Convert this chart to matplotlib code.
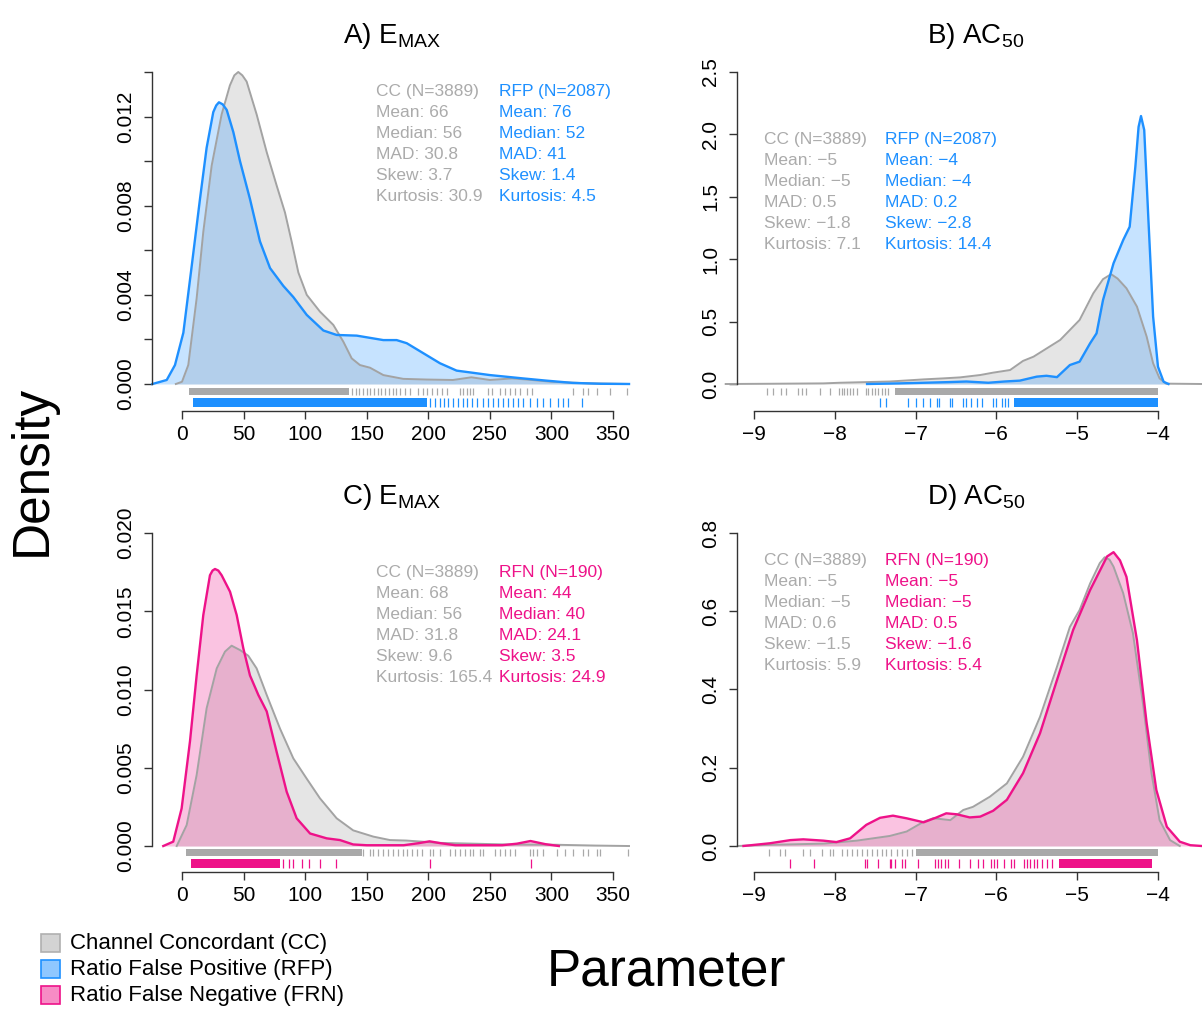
import numpy as np
import matplotlib
matplotlib.use('Agg')
from matplotlib import pyplot as plt

plt.rcParams['font.family'] = ['Liberation Sans', 'DejaVu Sans']
plt.rcParams['mathtext.fontset'] = 'custom'
plt.rcParams['mathtext.rm'] = 'Liberation Sans'
plt.rcParams['mathtext.it'] = 'Liberation Sans:italic'

# ---- density curves ----
# A) Emax, CC vs RFP
a_cc_x = [-5, 0, 5.1, 11.9, 17.3, 24.1, 32.2, 38.9, 42.5, 45.7, 49, 52.5, 60.6, 68.8, 76.9, 83.6, 89, 94.5,
          101.3, 112, 122.9, 131, 137.8, 144.5, 152.7, 163.5, 179.7, 198.7, 220, 235, 250, 268, 280, 300,
          330, 363]
a_cc_y = [0, 0.0001, 0.00085, 0.00385, 0.00683, 0.0098, 0.0121, 0.0134, 0.01385, 0.0140, 0.01385, 0.01357,
          0.0121, 0.0104, 0.0089, 0.0077, 0.0064, 0.0050, 0.0040, 0.00325, 0.00265, 0.0019, 0.00115,
          0.00085, 0.00073, 0.0004, 0.00023, 0.0002, 0.00018, 0.0003, 0.00018, 0.00025, 0.0002, 0.0001,
          0.00003, 0]
a_rfp_x = [-24, -12.4, -5.7, 1.1, 7.9, 14.6, 20, 25.4, 27.8, 30, 33, 36.3, 41.7, 47.1, 55.2, 63.3, 71.5,
           82.3, 90.4, 101.3, 114.8, 125.6, 141.9, 163.5, 174.3, 182.5, 196, 209.5, 223, 236.6, 250, 277,
           296, 317, 340, 363]
a_rfp_y = [0, 0.00018, 0.00085, 0.0023, 0.0053, 0.0083, 0.0106, 0.0122, 0.0125, 0.01264, 0.01255, 0.0123,
           0.0113, 0.0100, 0.0083, 0.0064, 0.0052, 0.0044, 0.0039, 0.0031, 0.0024, 0.0022, 0.00217,
           0.00197, 0.00197, 0.00183, 0.00138, 0.00093, 0.0006, 0.0005, 0.0004, 0.00025, 0.00015,
           0.00005, 0.00001, 0]

# B) AC50, CC vs RFP
b_cc_x = [-9.35, -8.8, -8.14, -7.94, -7.32, -6.9, -6.66, -6.45, -6.2, -6.04, -5.83, -5.67, -5.54, -5.21,
          -4.97, -4.8, -4.68, -4.58, -4.5, -4.39, -4.26, -4.14, -4.06, -3.98, -3.9, -3.45]
b_cc_y = [0, 0.002, 0.005, 0.01, 0.02, 0.037, 0.045, 0.053, 0.072, 0.091, 0.112, 0.185, 0.219, 0.353,
          0.513, 0.727, 0.84, 0.88, 0.845, 0.767, 0.62, 0.38, 0.166, 0.045, 0.003, 0]
b_rfp_x = [-7.6, -7.2, -6.9, -6.6, -6.37, -6.1, -5.9, -5.71, -5.5, -5.38, -5.25, -5.09, -4.97, -4.84,
           -4.76, -4.68, -4.55, -4.43, -4.35, -4.28, -4.24, -4.21, -4.17, -4.12, -4.06, -4.0, -3.93, -3.87]
b_rfp_y = [0, 0.005, 0.01, 0.015, 0.02, 0.01, 0.02, 0.027, 0.059, 0.066, 0.055, 0.152, 0.179, 0.326,
           0.406, 0.673, 0.967, 1.154, 1.26, 1.74, 2.06, 2.147, 2.035, 1.34, 0.54, 0.139, 0.018, 0]

# C) Emax, CC vs RFN
c_cc_x = [-4.3, 3.8, 11.9, 20, 28.2, 34.9, 40.3, 47.1, 53.8, 60.6, 68.8, 79.6, 90.4, 101.3, 112, 125.6,
          139, 155.4, 168.9, 182, 209.5, 236.6, 263.7, 304, 335, 363]
c_cc_y = [0, 0.00134, 0.00454, 0.0088, 0.01135, 0.01242, 0.0128, 0.01252, 0.01216, 0.01135, 0.00965,
          0.0075, 0.0056, 0.0043, 0.00305, 0.00177, 0.001, 0.0006, 0.00038, 0.00035, 0.0002, 0.00015,
          0.0001, 0.00008, 0.00003, 0]
c_rfn_x = [-15.2, -7.1, -0.3, 6.5, 11.9, 17.3, 22.7, 24.8, 26.8, 29.5, 32.2, 39, 44.4, 49.8, 55.2, 62, 68.8,
           76.9, 85, 93.1, 104, 117.5, 128.3, 139, 150, 180, 192, 201, 210, 222, 260, 272, 283, 295, 306]
c_rfn_y = [0, 0.00028, 0.0024, 0.0067, 0.0109, 0.01476, 0.0173, 0.0176, 0.0177, 0.0176, 0.0173, 0.01625,
           0.01476, 0.01263, 0.0109, 0.00965, 0.0086, 0.006, 0.00347, 0.00177, 0.0008, 0.00049, 0.00038,
           0.0001, 0.00005, 0.00005, 0.00018, 0.0003, 0.00018, 0.00005, 0.00005, 0.00015, 0.00032,
           0.00012, 0]

# D) AC50, CC vs RFN
d_cc_x = [-9.2, -8.8, -8.14, -7.73, -7.32, -7.11, -6.9, -6.78, -6.57, -6.41, -6.29, -6.08, -5.87, -5.67,
          -5.46, -5.25, -5.09, -4.97, -4.84, -4.72, -4.66, -4.6, -4.55, -4.43, -4.31, -4.18, -4.08, -3.98,
          -3.85, -3.73]
d_cc_y = [0, 0.003, 0.006, 0.0136, 0.0256, 0.037, 0.062, 0.071, 0.066, 0.092, 0.1, 0.126, 0.16, 0.228,
          0.33, 0.458, 0.56, 0.603, 0.671, 0.723, 0.738, 0.732, 0.714, 0.646, 0.544, 0.356, 0.186, 0.066,
          0.015, 0]
d_rfn_x = [-9.13, -8.8, -8.55, -8.39, -8.14, -7.98, -7.81, -7.61, -7.44, -7.28, -7.11, -6.9, -6.74,
           -6.62, -6.49, -6.33, -6.2, -6.04, -5.87, -5.67, -5.46, -5.25, -5.05, -4.84, -4.63, -4.55,
           -4.47, -4.39, -4.26, -4.14, -4.02, -3.89, -3.73, -3.6, -3.46]
d_rfn_y = [0, 0.007, 0.015, 0.017, 0.0136, 0.01, 0.0196, 0.054, 0.072, 0.0775, 0.0707, 0.0605, 0.073,
           0.0835, 0.081, 0.073, 0.075, 0.09, 0.118, 0.186, 0.288, 0.424, 0.552, 0.654, 0.74, 0.751,
           0.73, 0.688, 0.526, 0.314, 0.143, 0.049, 0.011, 0.002, 0]

# ---- rugs: solid stretches (start, end) and single ticks ----
a_cc_rug_dense = [(6, 136)]
a_cc_rug = [138, 141, 144, 147, 150, 153, 156, 159, 162, 165, 168, 171, 174, 177, 181, 185.2, 191.9, 196,
            199.2, 202.7, 206.8, 210.8, 214.9, 225.7, 228.4, 231.1, 233.8, 236.5, 248.7, 251.4, 258.2,
            262.2, 266.3, 270.4, 274.4, 279.8, 283.9, 317.8, 325.9, 330, 336.8, 347.6, 361]
a_rfp_rug_dense = [(8.7, 198.7)]
a_rfp_rug = [201.4, 205.5, 209.5, 212.8, 216.3, 220.4, 224.4, 228, 231.1, 235.2, 239.2, 244.6, 248.7,
             252.8, 256.8, 260.9, 265, 269, 273.1, 277.2, 282.6, 288, 293.4, 298.8, 305.6, 309.7, 313.8, 324.6]

b_cc_rug_dense = [(-7.255, -4.0)]
b_cc_rug = [-8.835, -8.77, -8.66, -8.6, -8.46, -8.41, -8.36, -8.18, -8.06, -7.95, -7.915, -7.88, -7.85,
            -7.81, -7.77, -7.73, -7.61, -7.585, -7.54, -7.5, -7.46, -7.42, -7.38, -7.34]
b_rfp_rug_dense = [(-5.78, -4.0)]
b_rfp_rug = [-7.44, -7.36, -7.09, -6.99, -6.905, -6.82, -6.74, -6.71, -6.57, -6.55, -6.41, -6.37, -6.31,
             -6.24, -6.18, -6.04, -6.0, -5.93, -5.89, -5.85]

c_cc_rug_dense = [(3, 146)]
c_cc_rug = [147.3, 152.7, 155.4, 159.5, 163.5, 167.6, 171.6, 175.7, 179.8, 182.5, 186.5, 190.6, 194.7,
            201.4, 204.1, 209.5, 217.6, 221.7, 225.7, 229.8, 233.8, 236.5, 241.9, 244.6, 254.1, 258.2,
            262.2, 266.3, 270.4, 282.6, 285.3, 288, 293.4, 304.2, 311, 317.8, 325.9, 330, 336.7, 339.4, 362.4]
c_rfn_rug_dense = [(7, 79.6)]
c_rfn_rug = [82.3, 87.2, 90.4, 97.2, 103.4, 112, 124.8, 201.4, 283.4]

d_cc_rug_dense = [(-6.99, -4.0)]
d_cc_rug = [-8.81, -8.68, -8.62, -8.39, -8.31, -8.16, -8.06, -8.02, -7.91, -7.85, -7.79, -7.73, -7.66,
            -7.60, -7.54, -7.48, -7.42, -7.36, -7.30, -7.23, -7.17, -7.11, -7.05]
d_rfn_rug_dense = [(-5.23, -4.07)]
d_rfn_rug = [-8.55, -8.26, -7.62, -7.60, -7.46, -7.32, -7.30, -7.25, -7.17, -7.13, -6.97, -6.76, -6.72,
             -6.68, -6.64, -6.60, -6.46, -6.33, -6.23, -6.17, -6.07, -6.03, -5.99, -5.91, -5.82, -5.78,
             -5.66, -5.62, -5.58, -5.54, -5.5, -5.43, -5.37, -5.31]

# ---- summary statistics text ----
a_cc_stats = ['CC (N=3889)', 'Mean: 66', 'Median: 56', 'MAD: 30.8', 'Skew: 3.7', 'Kurtosis: 30.9']
a_rfp_stats = ['RFP (N=2087)', 'Mean: 76', 'Median: 52', 'MAD: 41', 'Skew: 1.4', 'Kurtosis: 4.5']
b_cc_stats = ['CC (N=3889)', 'Mean: \u22125', 'Median: \u22125', 'MAD: 0.5', 'Skew: \u22121.8', 'Kurtosis: 7.1']
b_rfp_stats = ['RFP (N=2087)', 'Mean: \u22124', 'Median: \u22124', 'MAD: 0.2', 'Skew: \u22122.8', 'Kurtosis: 14.4']
c_cc_stats = ['CC (N=3889)', 'Mean: 68', 'Median: 56', 'MAD: 31.8', 'Skew: 9.6', 'Kurtosis: 165.4']
c_rfn_stats = ['RFN (N=190)', 'Mean: 44', 'Median: 40', 'MAD: 24.1', 'Skew: 3.5', 'Kurtosis: 24.9']
d_cc_stats = ['CC (N=3889)', 'Mean: \u22125', 'Median: \u22125', 'MAD: 0.6', 'Skew: \u22121.5', 'Kurtosis: 5.9']
d_rfn_stats = ['RFN (N=190)', 'Mean: \u22125', 'Median: \u22125', 'MAD: 0.5', 'Skew: \u22121.6', 'Kurtosis: 5.4']

emax_ticks = [0, 50, 100, 150, 200, 250, 300, 350]
ac50_ticks = [-9, -8, -7, -6, -5, -4]
legend_labels = ['Channel Concordant (CC)', 'Ratio False Positive (RFP)', 'Ratio False Negative (FRN)']

# colours
GRAY_LINE = '#a3a3a3'
GRAY_FILL = '#bebebe'
GRAY_TEXT = '#ababab'
BLUE = '#1e90ff'
PINK = '#ee1289'

W, H = 1202, 1010
fig = plt.figure(figsize=(W / 100, H / 100), dpi=100)


def px_axes(l, r, t, b):
    return fig.add_axes([l / W, 1 - b / H, (r - l) / W, (b - t) / H])


def panel(ax, cc_x, cc_y, oth_x, oth_y, col, xlim, ylim, yticks, ylabels, xticks,
          cc_dense, cc_rug, oth_dense, oth_rug):
    ax.fill_between(cc_x, cc_y, 0, color=GRAY_FILL, alpha=0.4, lw=0)
    ax.plot(cc_x, cc_y, color=GRAY_LINE, lw=1.4, clip_on=False)
    ax.fill_between(oth_x, oth_y, 0, color=col, alpha=0.25, lw=0)
    ax.plot(oth_x, oth_y, color=col, lw=1.7, clip_on=False)
    tr = ax.get_xaxis_transform()
    for a, b in cc_dense:
        ax.axvspan(a, b, ymin=0.046, ymax=0.068, color='#a9a9a9', lw=0)
    ax.vlines(cc_rug, 0.046, 0.068, transform=tr, color='#a9a9a9', lw=0.9)
    for a, b in oth_dense:
        ax.axvspan(a, b, ymin=0.013, ymax=0.038, color=col, lw=0)
    ax.vlines(oth_rug, 0.013, 0.038, transform=tr, color=col, lw=0.9)
    ax.set_xlim(*xlim)
    ax.set_ylim(*ylim)
    for s in ['top', 'right']:
        ax.spines[s].set_visible(False)
    ax.spines['left'].set_bounds(0, yticks[-1])
    ax.spines['bottom'].set_bounds(xticks[0], xticks[-1])
    for s in ['left', 'bottom']:
        ax.spines[s].set_color('#333333')
        ax.spines[s].set_linewidth(1.0)
    ax.set_yticks(yticks)
    ax.set_yticklabels(ylabels, rotation=90, va='center')
    ax.set_xticks(xticks)
    ax.set_xticklabels([str(t).replace('-', '\u2212') for t in xticks])
    ax.tick_params(axis='both', direction='out', length=6, width=1.0, color='#333333', labelsize=15)
    ax.tick_params(axis='y', pad=6)
    ax.tick_params(axis='x', pad=4)
    ax.patch.set_alpha(0)


def stats(gray_lines, col_lines, col, x1, x2, y0):
    for i, (g, c) in enumerate(zip(gray_lines, col_lines)):
        y = 1 - (y0 + 6 + 21 * i) / H
        fig.text(x1 / W, y, g, color=GRAY_TEXT, fontsize=12.5, va='baseline', ha='left')
        fig.text(x2 / W, y, c, color=col, fontsize=12.5, va='baseline', ha='left')


emax_xlim = (-24.36, 363.8)
ac50_xlim = (-9.21, -3.455)

ax_a = px_axes(152, 630, 72, 411)
panel(ax_a, a_cc_x, a_cc_y, a_rfp_x, a_rfp_y, BLUE, emax_xlim, (-0.001212, 0.014),
      [0, 0.002, 0.004, 0.006, 0.008, 0.010, 0.012, 0.014],
      ['0.000', '', '0.004', '', '0.008', '', '0.012', ''], emax_ticks,
      a_cc_rug_dense, a_cc_rug, a_rfp_rug_dense, a_rfp_rug)

ax_b = px_axes(737, 1202, 72, 411)
panel(ax_b, b_cc_x, b_cc_y, b_rfp_x, b_rfp_y, BLUE, ac50_xlim, (-0.2163, 2.5),
      [0, 0.5, 1.0, 1.5, 2.0, 2.5], ['0.0', '0.5', '1.0', '1.5', '2.0', '2.5'], ac50_ticks,
      b_cc_rug_dense, b_cc_rug, b_rfp_rug_dense, b_rfp_rug)

ax_c = px_axes(152, 630, 533, 872)
panel(ax_c, c_cc_x, c_cc_y, c_rfn_x, c_rfn_y, PINK, emax_xlim, (-0.00166, 0.020),
      [0, 0.005, 0.010, 0.015, 0.020], ['0.000', '0.005', '0.010', '0.015', '0.020'], emax_ticks,
      c_cc_rug_dense, c_cc_rug, c_rfn_rug_dense, c_rfn_rug)

ax_d = px_axes(737, 1202, 533, 872)
panel(ax_d, d_cc_x, d_cc_y, d_rfn_x, d_rfn_y, PINK, ac50_xlim, (-0.0665, 0.8),
      [0, 0.2, 0.4, 0.6, 0.8], ['0.0', '0.2', '0.4', '0.6', '0.8'], ac50_ticks,
      d_cc_rug_dense, d_cc_rug, d_rfn_rug_dense, d_rfn_rug)

stats(a_cc_stats, a_rfp_stats, BLUE, 376, 499, 90)
stats(b_cc_stats, b_rfp_stats, BLUE, 764, 885, 138)
stats(c_cc_stats, c_rfn_stats, PINK, 376, 499, 571)
stats(d_cc_stats, d_rfn_stats, PINK, 764, 885, 559)

# panel titles
fig.text(392 / W, 1 - 43 / H, r'A) E$_{\mathrm{MAX}}$', fontsize=20, ha='center', va='baseline')
fig.text(976 / W, 1 - 43 / H, r'B) AC$_{\mathrm{50}}$', fontsize=20, ha='center', va='baseline')
fig.text(392 / W, 1 - 504 / H, r'C) E$_{\mathrm{MAX}}$', fontsize=20, ha='center', va='baseline')
fig.text(976 / W, 1 - 504 / H, r'D) AC$_{\mathrm{50}}$', fontsize=20, ha='center', va='baseline')

# shared axis titles
fig.text(32 / W, 1 - 470 / H, 'Density', fontsize=37, rotation=90, ha='center', va='center')
fig.text(667 / W, 1 - 985 / H, 'Parameter', fontsize=37, ha='center', va='baseline')

# legend
box_fill = [('#d3d3d3', '#b0b0b0'), ('#8fc7ff', BLUE), ('#f78cc5', PINK)]
for i, (lab, (fc, ec)) in enumerate(zip(legend_labels, box_fill)):
    yc = 943 + 26 * i
    fig.patches.append(plt.Rectangle((41 / W, 1 - (yc + 9) / H), 19 / W, 18 / H,
                                     transform=fig.transFigure, facecolor=fc, edgecolor=ec, lw=1.2))
    fig.text(70 / W, 1 - yc / H, lab, fontsize=16, ha='left', va='center')

fig.savefig('out.png', dpi=100)
